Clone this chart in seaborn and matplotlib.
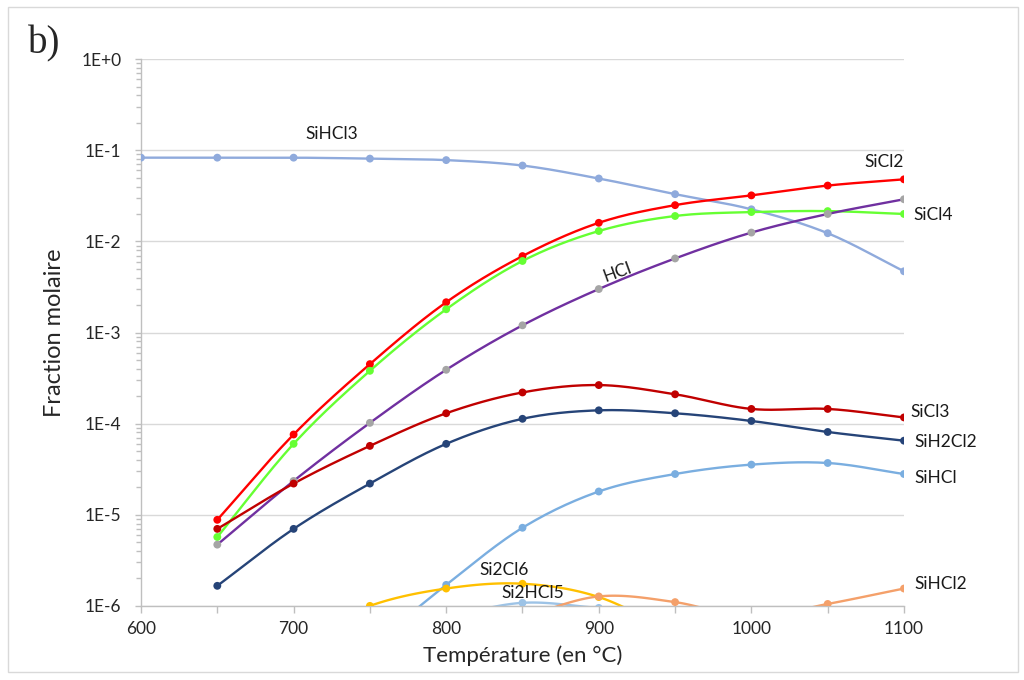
import numpy as np
import pandas as pd
import matplotlib
matplotlib.use('Agg')
import matplotlib.pyplot as plt
import seaborn as sns
from matplotlib.patches import Rectangle
from matplotlib.ticker import FixedLocator, NullFormatter

# temperatures (°C) and molar fractions
temps = [600, 650, 700, 750, 800, 850, 900, 950, 1000, 1050, 1100]
nan = np.nan

sihcl3 = [0.083, 0.083, 0.083, 0.081, 0.078, 0.068, 0.049, 0.033, 0.0225, 0.0123, 0.0047]
sicl2 = [nan, 8.8e-6, 7.6e-5, 4.5e-4, 2.15e-3, 6.9e-3, 1.6e-2, 2.5e-2, 3.2e-2, 4.1e-2, 4.8e-2]
sicl4 = [nan, 5.7e-6, 6.0e-5, 3.8e-4, 1.8e-3, 6.1e-3, 1.3e-2, 1.9e-2, 2.1e-2, 2.15e-2, 2.0e-2]
hcl = [nan, 4.7e-6, 2.35e-5, 1.02e-4, 3.9e-4, 1.2e-3, 3.0e-3, 6.5e-3, 1.25e-2, 2.0e-2, 2.9e-2]
sicl3 = [nan, 7.0e-6, 2.2e-5, 5.7e-5, 1.3e-4, 2.2e-4, 2.65e-4, 2.1e-4, 1.45e-4, 1.45e-4, 1.17e-4]
sih2cl2 = [nan, 1.66e-6, 7.0e-6, 2.2e-5, 6.0e-5, 1.13e-4, 1.4e-4, 1.3e-4, 1.07e-4, 8.1e-5, 6.5e-5]
sihcl = [nan, nan, nan, 3.5e-7, 1.7e-6, 7.2e-6, 1.8e-5, 2.8e-5, 3.55e-5, 3.7e-5, 2.8e-5]
si2cl6 = [nan, nan, 4.0e-7, 1.0e-6, 1.55e-6, 1.75e-6, 1.25e-6, 5.0e-7, nan, nan, nan]
si2hcl5 = [nan, nan, nan, nan, 7.5e-7, 1.08e-6, 9.5e-7, nan, nan, nan, nan]
sihcl2 = [nan, nan, nan, nan, nan, 7.5e-7, 1.27e-6, 1.1e-6, 7.5e-7, 1.05e-6, 1.55e-6]

series = {
    'SiHCl3': sihcl3, 'SiCl2': sicl2, 'SiCl4': sicl4, 'HCl': hcl, 'SiCl3': sicl3,
    'SiH2Cl2': sih2cl2, 'SiHCl': sihcl, 'Si2Cl6': si2cl6, 'Si2HCl5': si2hcl5, 'SiHCl2': sihcl2,
}
line_colors = {
    'SiHCl3': '#8faadc', 'SiCl2': '#ff0000', 'SiCl4': '#66ff33', 'HCl': '#7030a0',
    'SiCl3': '#c00000', 'SiH2Cl2': '#264478', 'SiHCl': '#7aaee0', 'Si2Cl6': '#ffc000',
    'Si2HCl5': '#9dc3e6', 'SiHCl2': '#f4a06a',
}
marker_colors = dict(line_colors, HCl='#a5a5a5')


def smooth(x, y, n=24):
    # Catmull-Rom curve through the points in (x, log10 y), like Excel's smoothed lines
    lx = np.asarray(x, float)
    ly = np.log10(np.asarray(y, float))
    px = np.r_[2 * lx[0] - lx[1], lx, 2 * lx[-1] - lx[-2]]
    py = np.r_[2 * ly[0] - ly[1], ly, 2 * ly[-1] - ly[-2]]
    xs, ys = [], []
    for i in range(1, len(px) - 2):
        t = np.linspace(0, 1, n)[:, None]
        P = np.array([[px[i + k], py[i + k]] for k in (-1, 0, 1, 2)])
        c = 0.5 * ((2 * P[1]) + (-P[0] + P[2]) * t
                   + (2 * P[0] - 5 * P[1] + 4 * P[2] - P[3]) * t ** 2
                   + (-P[0] + 3 * P[1] - 3 * P[2] + P[3]) * t ** 3)
        xs.append(c[:, 0])
        ys.append(c[:, 1])
    return np.concatenate(xs), 10 ** np.concatenate(ys)


sns.set_theme(style="white")
plt.rcParams['font.family'] = ['Lato', 'DejaVu Sans']

fig = plt.figure(figsize=(10.24, 6.8), dpi=100)
ax = fig.add_axes([0.1377, 0.109, 0.7451, 0.804])

for name, vals in series.items():
    df = pd.DataFrame({'T': temps, 'x': vals}).dropna()
    sx, sy = smooth(df['T'], df['x'])
    sns.lineplot(x=sx, y=sy, sort=False, estimator=None, color=line_colors[name],
                 lw=1.7, ax=ax)
    sns.scatterplot(x=df['T'], y=df['x'], color=marker_colors[name], s=32,
                    edgecolor='none', ax=ax, zorder=3)

ax.set_yscale('log')
ax.set_ylim(1e-6, 1)
ax.set_xlim(600, 1100)

ax.set_yticks([10.0 ** -k for k in range(7)])
ax.set_yticklabels(['1E+0', '1E-1', '1E-2', '1E-3', '1E-4', '1E-5', '1E-6'], fontsize=12.5)
minor = [m * 10.0 ** -k for k in range(1, 7) for m in range(2, 10)]
ax.yaxis.set_minor_locator(FixedLocator(minor))
ax.yaxis.set_minor_formatter(NullFormatter())

ax.set_xticks(list(range(600, 1101, 50)))
ax.set_xticklabels([str(t) if t % 100 == 0 else '' for t in range(600, 1101, 50)], fontsize=12.5)

ax.tick_params(axis='y', which='major', left=True, length=4, color='#bfbfbf', width=1, pad=10)
ax.tick_params(axis='y', which='minor', left=True, length=3.5, color='#bfbfbf', width=1)
ax.tick_params(axis='x', which='major', bottom=True, length=5, color='#bfbfbf', width=1, pad=6)
ax.grid(axis='y', which='major', color='#d9d9d9', lw=1)
ax.grid(axis='x', visible=False)
for side in ['top', 'right']:
    ax.spines[side].set_visible(False)
for side in ['left', 'bottom']:
    ax.spines[side].set_color('#bfbfbf')
    ax.spines[side].set_linewidth(1)

ax.set_xlabel('Température (en °C)', fontsize=16, labelpad=6)
ax.set_ylabel('Fraction molaire', fontsize=17, labelpad=12)

# series labels
lab = dict(fontsize=12.5, color='#1a1a1a')
ax.text(725, 0.15, 'SiHCl3', ha='center', va='center', **lab)
ax.text(1087, 0.074, 'SiCl2', ha='center', va='center', **lab)
ax.text(1106, 0.0195, 'SiCl4', ha='left', va='center', **lab)
ax.text(912, 4.6e-3, 'HCl', ha='center', va='center', rotation=20, **lab)
ax.text(1104, 1.35e-4, 'SiCl3', ha='left', va='center', **lab)
ax.text(1107, 6.3e-5, 'SiH2Cl2', ha='left', va='center', **lab)
ax.text(1107, 2.5e-5, 'SiHCl', ha='left', va='center', **lab)
ax.text(1107, 1.75e-6, 'SiHCl2', ha='left', va='center', **lab)
ax.text(838, 2.5e-6, 'Si2Cl6', ha='center', va='center', **lab)
ax.text(857, 1.38e-6, 'Si2HCl5', ha='center', va='center', **lab)
for t in ax.texts:
    t.set_clip_on(False)

fig.text(0.027, 0.935, 'b)', fontsize=28, family='Liberation Serif', va='center')
fig.patches.append(Rectangle((0.008, 0.012), 0.986, 0.978, transform=fig.transFigure,
                             fill=False, edgecolor='#d9d9d9', lw=1))

fig.savefig('out.png', dpi=100)
